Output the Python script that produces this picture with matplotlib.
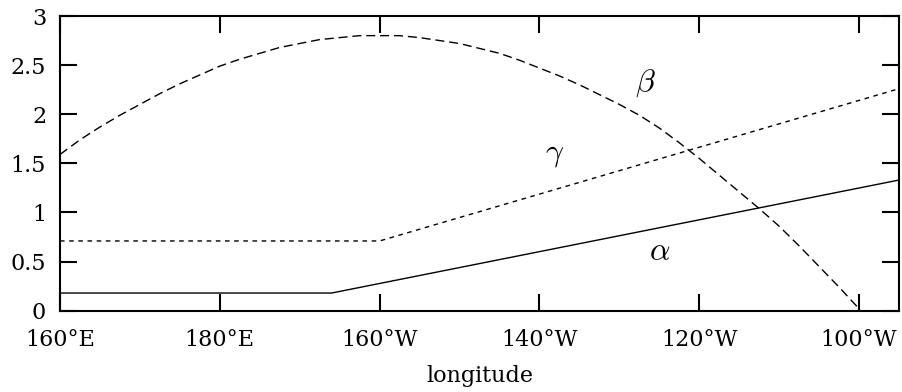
import matplotlib
matplotlib.use("Agg")
import matplotlib.pyplot as plt

plt.rcParams["mathtext.fontset"] = "cm"
plt.rcParams["font.family"] = ["DejaVu Serif"]

# longitude in continuous degrees east (180 = date line, 200 = 160°W ...)
alpha_lon = [160, 194, 265]
alpha_val = [0.18, 0.18, 1.33]

gamma_lon = [160, 200, 265]
gamma_val = [0.71, 0.71, 2.26]

beta_lon = [160, 162.5, 165, 167.5, 170, 172.5, 175, 177.5, 180, 182.5,
            185, 187.5, 190, 192.5, 195, 197.5, 200, 202.5, 205, 207.5,
            210, 212.5, 215, 217.5, 220, 222.5, 225, 227.5, 230, 232.5,
            235, 237.5, 240, 242.5, 245, 247.5, 250, 252.5, 255, 257.5, 260]
beta_val = [1.59, 1.74, 1.87, 1.99, 2.10, 2.21, 2.31, 2.40, 2.49, 2.56,
            2.62, 2.68, 2.72, 2.76, 2.78, 2.80, 2.80, 2.80, 2.78, 2.75,
            2.72, 2.67, 2.62, 2.55, 2.47, 2.39, 2.30, 2.20, 2.10, 1.99,
            1.86, 1.71, 1.55, 1.38, 1.21, 1.04, 0.86, 0.66, 0.45, 0.24, 0.02]

xtick_pos = [160, 180, 200, 220, 240, 260]
xtick_labels = ["160°E", "180°E", "160°W", "140°W", "120°W", "100°W"]
ytick_pos = [0, 0.5, 1, 1.5, 2, 2.5, 3]
ytick_labels = ["0", "0.5", "1", "1.5", "2", "2.5", "3"]

fig = plt.figure(figsize=(9.02, 3.92), dpi=100)
ax = fig.add_axes([60 / 902, 1 - 310.7 / 392, 839 / 902, (310.7 - 16) / 392])

ax.plot(alpha_lon, alpha_val, color="black", lw=1.0, ls="-")
ax.plot(beta_lon, beta_val, color="black", lw=1.0, ls=(0, (6.5, 3.5)))
ax.plot(gamma_lon, gamma_val, color="black", lw=1.0, ls=(0, (3.3, 3.3)))

ax.text(235, 0.60, r"$\alpha$", fontsize=23, ha="center", va="center")
ax.text(233.3, 2.32, r"$\beta$", fontsize=23, ha="center", va="center")
ax.text(221.9, 1.60, r"$\gamma$", fontsize=23, ha="center", va="center")

ax.set_xlim(160, 265)
ax.set_ylim(0, 3)
ax.set_xticks(xtick_pos)
ax.set_xticklabels(xtick_labels)
ax.set_yticks(ytick_pos)
ax.set_yticklabels(ytick_labels)
ax.set_xlabel("longitude", fontsize=16, labelpad=10)

ax.tick_params(direction="in", length=12, width=1.5, labelsize=16,
               top=True, right=True)
ax.tick_params(axis="x", pad=13)
ax.tick_params(axis="y", pad=10)
for s in ax.spines.values():
    s.set_linewidth(1.5)

fig.savefig("out.png", dpi=100)
